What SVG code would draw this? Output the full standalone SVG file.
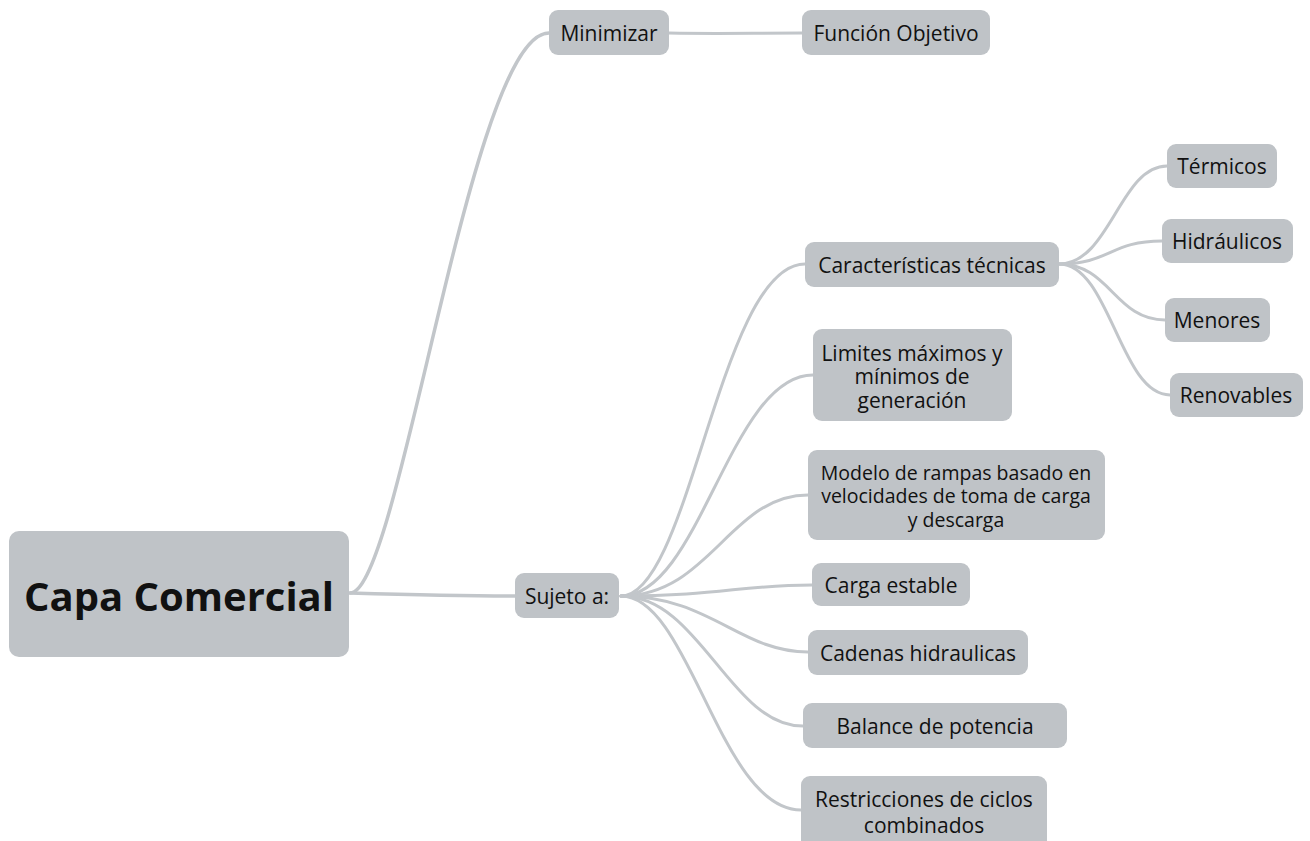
<svg xmlns="http://www.w3.org/2000/svg" width="1310" height="841" viewBox="0 0 1310 841">
<style>
.n{fill:#bfc3c7}
.t{font-family:"Open Sans","Noto Sans","Liberation Sans",sans-serif;font-size:21px;font-weight:500;fill:#111;text-anchor:middle;dominant-baseline:central}
.s{font-size:19.5px}
.r{font-size:40px;font-weight:bold}
.c{fill:none;stroke:#c2c6ca;stroke-width:3;stroke-linecap:round}
</style>
<rect width="1310" height="841" fill="#fff"/>
<g id="connectors">
<path class="c" d="M350,593 C400,593 470,33 549,33" style="stroke-width:3.5"/>
<path class="c" d="M350,593 C420,595 460,596 515,596" style="stroke-width:3.5"/>
<path class="c" d="M669,33 C720,34 750,33 802,33" style="stroke-width:3"/>
<path class="c" d="M621,596 C690,596 720,264 805,264"/>
<path class="c" d="M621,596 C700,596 730,375 813,375"/>
<path class="c" d="M621,596 C710,596 730,495 808,495"/>
<path class="c" d="M621,596 C720,596 740,585 812,585"/>
<path class="c" d="M621,596 C710,596 740,652 808,652"/>
<path class="c" d="M621,596 C700,596 730,726 803,726"/>
<path class="c" d="M621,596 C690,596 720,810 801,810"/>
<path class="c" d="M1059,264 C1110,264 1120,166 1167,166"/>
<path class="c" d="M1059,264 C1110,264 1110,241 1162,241"/>
<path class="c" d="M1059,264 C1110,264 1115,320 1165,320"/>
<path class="c" d="M1059,264 C1110,264 1120,395 1170,395"/>
</g>
<g id="root"><rect class="n" x="9" y="531" width="340" height="126" rx="10"/><text class="t r" x="179" y="595">Capa Comercial</text></g>
<g id="minimizar"><rect class="n" x="549" y="10" width="120" height="45" rx="9"/><text class="t" x="609" y="33">Minimizar</text></g>
<g id="funcion"><rect class="n" x="802" y="10" width="188" height="45" rx="9"/><text class="t" x="896" y="33">Función Objetivo</text></g>
<g id="sujeto"><rect class="n" x="515" y="573" width="104" height="45" rx="9"/><text class="t" x="567" y="596">Sujeto a:</text></g>
<g id="caracteristicas"><rect class="n" x="805" y="242" width="254" height="45" rx="9"/><text class="t" x="932" y="265">Características técnicas</text></g>
<g id="termicos"><rect class="n" x="1167" y="144" width="110" height="44" rx="9"/><text class="t" x="1222" y="166">Térmicos</text></g>
<g id="hidraulicos"><rect class="n" x="1162" y="219" width="131" height="44" rx="9"/><text class="t" x="1227" y="241">Hidráulicos</text></g>
<g id="menores"><rect class="n" x="1165" y="298" width="105" height="44" rx="9"/><text class="t" x="1217" y="320">Menores</text></g>
<g id="renovables"><rect class="n" x="1170" y="373" width="133" height="44" rx="9"/><text class="t" x="1236" y="395">Renovables</text></g>
<g id="limites"><rect class="n" x="813" y="329" width="199" height="92" rx="9"/><text class="t" x="912" y="353">Limites máximos y</text><text class="t" x="912" y="376">mínimos de</text><text class="t" x="912" y="400">generación</text></g>
<g id="modelo"><rect class="n" x="808" y="450" width="297" height="90" rx="9"/><text class="t s" x="956" y="472">Modelo de rampas basado en</text><text class="t s" x="956" y="495">velocidades de toma de carga</text><text class="t s" x="956" y="519">y descarga</text></g>
<g id="carga"><rect class="n" x="812" y="563" width="158" height="43" rx="9"/><text class="t" x="891" y="585">Carga estable</text></g>
<g id="cadenas"><rect class="n" x="808" y="630" width="220" height="45" rx="9"/><text class="t" x="918" y="653">Cadenas hidraulicas</text></g>
<g id="balance"><rect class="n" x="803" y="703" width="264" height="45" rx="9"/><text class="t" x="935" y="726">Balance de potencia</text></g>
<g id="restricciones"><rect class="n" x="801" y="776" width="246" height="75" rx="9"/><text class="t" x="924" y="799">Restricciones de ciclos</text><text class="t" x="924" y="825">combinados</text></g>
</svg>
